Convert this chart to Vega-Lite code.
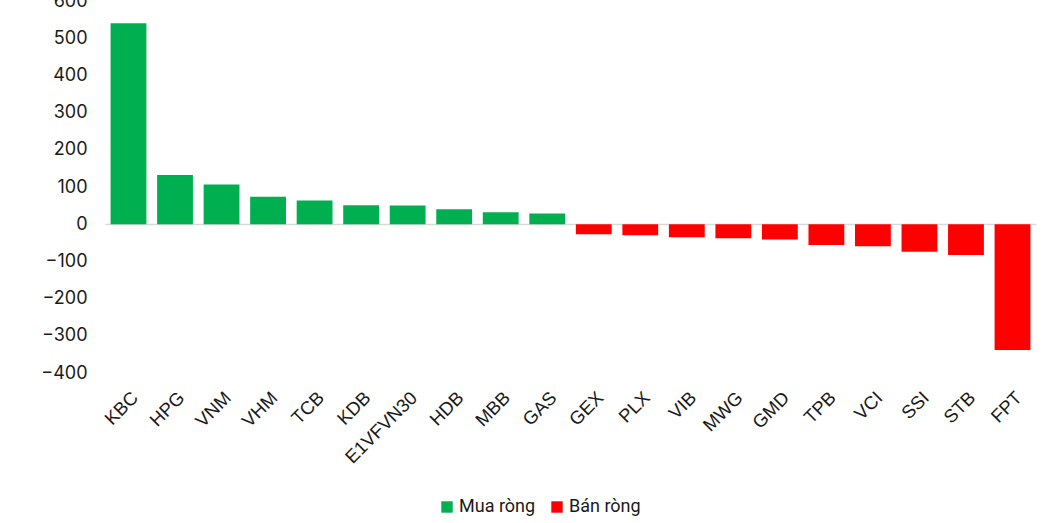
{
  "$schema": "https://vega.github.io/schema/vega-lite/v6.json",
  "autosize": {"type": "none"},
  "width": 931,
  "height": 372,
  "padding": {"left": 105, "top": 1, "right": 8, "bottom": 150},
  "background": "white",
  "config": {"view": {"stroke": null}, "font": "Liberation Sans", "axis": {"labelOverlap": false}},
  "data": {"values": [
    {"ma": "KBC", "gt": 540, "loai": "Mua ròng"},
    {"ma": "HPG", "gt": 132, "loai": "Mua ròng"},
    {"ma": "VNM", "gt": 107, "loai": "Mua ròng"},
    {"ma": "VHM", "gt": 74, "loai": "Mua ròng"},
    {"ma": "TCB", "gt": 64, "loai": "Mua ròng"},
    {"ma": "KDB", "gt": 51, "loai": "Mua ròng"},
    {"ma": "E1VFVN30", "gt": 50, "loai": "Mua ròng"},
    {"ma": "HDB", "gt": 40, "loai": "Mua ròng"},
    {"ma": "MBB", "gt": 32, "loai": "Mua ròng"},
    {"ma": "GAS", "gt": 29, "loai": "Mua ròng"},
    {"ma": "GEX", "gt": -27, "loai": "Bán ròng"},
    {"ma": "PLX", "gt": -30, "loai": "Bán ròng"},
    {"ma": "VIB", "gt": -35, "loai": "Bán ròng"},
    {"ma": "MWG", "gt": -38, "loai": "Bán ròng"},
    {"ma": "GMD", "gt": -41, "loai": "Bán ròng"},
    {"ma": "TPB", "gt": -56, "loai": "Bán ròng"},
    {"ma": "VCI", "gt": -59, "loai": "Bán ròng"},
    {"ma": "SSI", "gt": -74, "loai": "Bán ròng"},
    {"ma": "STB", "gt": -83, "loai": "Bán ròng"},
    {"ma": "FPT", "gt": -338, "loai": "Bán ròng"}
  ]},
  "mark": {"type": "bar"},
  "encoding": {
    "x": {
      "field": "ma", "type": "nominal", "sort": null,
      "scale": {"paddingInner": 0.23, "paddingOuter": 0.12},
      "axis": {"title": null, "labelAngle": -45, "labelFontSize": 18.5, "labelColor": "#1a1a1a", "ticks": false, "domain": false, "labelPadding": 15, "labelDx": -4, "labelOverlap": false, "labelFont": "Liberation Sans"}
    },
    "y": {
      "field": "gt", "type": "quantitative",
      "scale": {"domain": [-400, 600], "nice": false},
      "axis": {"title": null, "values": [-400, -300, -200, -100, 0, 100, 200, 300, 400, 500, 600], "grid": true, "gridColor": "#d9d9d9", "gridWidth": 1.5, "gridOpacity": {"condition": {"test": "datum.value === 0", "value": 1}, "value": 0}, "ticks": false, "domain": false, "labelOverlap": false, "labelFontSize": 18, "labelColor": "#1a1a1a", "labelPadding": 18, "labelFont": "Inter"}
    },
    "color": {
      "field": "loai", "type": "nominal",
      "scale": {"domain": ["Mua ròng", "Bán ròng"], "range": ["#00B050", "#FF0000"]},
      "legend": {"title": null, "orient": "none", "legendX": 333, "legendY": 497, "direction": "horizontal", "symbolType": "square", "symbolSize": 130, "symbolStrokeWidth": 0, "labelFontSize": 18, "labelFont": "Roboto", "labelColor": "#1a1a1a", "columnPadding": 12, "labelOffset": 3}
    }
  }
}
